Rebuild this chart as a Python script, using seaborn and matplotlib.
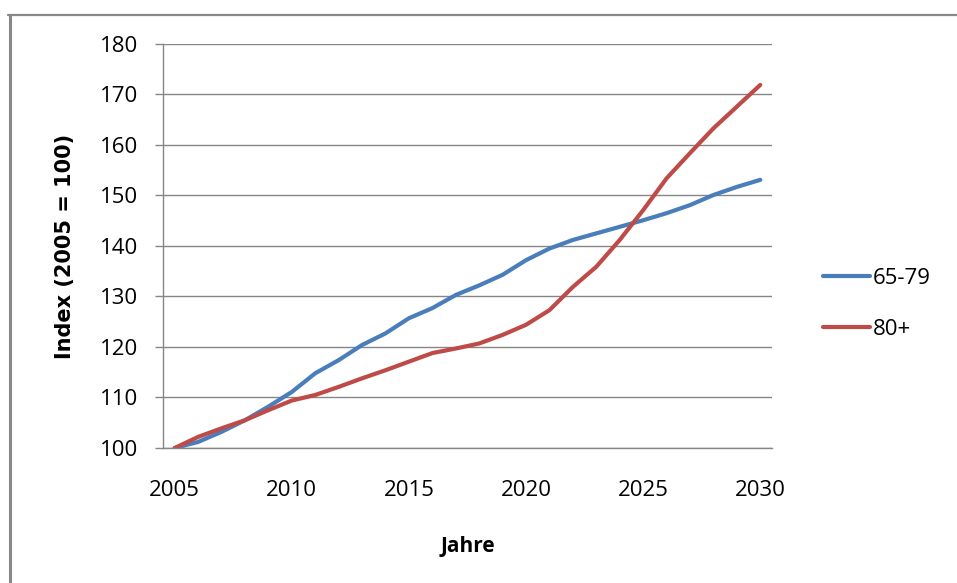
import numpy as np
import pandas as pd
import matplotlib
matplotlib.use("Agg")
import matplotlib.pyplot as plt
from matplotlib.lines import Line2D
import seaborn as sns

# Data
years = list(range(2005, 2031))
age_65_79 = [100.0, 101.2, 103.2, 105.5, 108.2, 111.1, 114.8, 117.4, 120.4, 122.7,
             125.7, 127.7, 130.3, 132.2, 134.3, 137.2, 139.5, 141.2, 142.5, 143.8,
             145.1, 146.5, 148.1, 150.1, 151.7, 153.1]
age_80_plus = [100.0, 102.2, 103.9, 105.5, 107.5, 109.4, 110.5, 112.1, 113.8, 115.4,
               117.1, 118.8, 119.7, 120.7, 122.4, 124.4, 127.3, 131.9, 135.9, 141.2,
               147.1, 153.4, 158.4, 163.3, 167.6, 171.9]
groups = ["65-79", "80+"]
colors = ["#4A7EBB", "#BE4B48"]

df = pd.DataFrame({
    "Jahr": years * 2,
    "Index": age_65_79 + age_80_plus,
    "Gruppe": [groups[0]] * len(years) + [groups[1]] * len(years),
})

sns.set_style("white")
plt.rcParams['font.family'] = ['Open Sans', 'DejaVu Sans']
plt.rcParams['text.color'] = 'black'
plt.rcParams['axes.labelcolor'] = 'black'
plt.rcParams['xtick.color'] = 'black'
plt.rcParams['ytick.color'] = 'black'

fig = plt.figure(figsize=(9.57, 5.83), dpi=100)
ax = fig.add_axes([163 / 957, 1 - 448 / 583, (772 - 163) / 957, (448 - 44) / 583])

sns.lineplot(data=df, x="Jahr", y="Index", hue="Gruppe", palette=colors,
             linewidth=3.0, ax=ax)

ax.set_xlim(2004.5, 2030.5)
ax.set_ylim(100, 180)
ax.set_yticks(np.arange(100, 181, 10))
ax.set_xticks([2005, 2010, 2015, 2020, 2025, 2030])
ax.yaxis.grid(True, color="#868686", linewidth=1.0)
ax.xaxis.grid(False)
ax.set_axisbelow(True)

for side in ["top", "right"]:
    ax.spines[side].set_visible(False)
for side in ["left", "bottom"]:
    ax.spines[side].set_color("#868686")
    ax.spines[side].set_linewidth(1.0)

ax.tick_params(axis="y", length=6, width=1.0, color="#868686", labelcolor="black",
               pad=12, labelsize=16, left=True)
ax.tick_params(axis="x", length=0, pad=23, labelsize=16, labelcolor="black")

ax.set_xlabel("Jahre", fontsize=15, fontweight="bold", labelpad=25)
ax.set_ylabel("Index (2005 = 100)", fontsize=15, fontweight="bold", labelpad=18,
              family=["DejaVu Sans"])

ax.legend(loc="center left", bbox_to_anchor=(823 / 957, 1 - 304 / 583),
          bbox_transform=fig.transFigure, frameon=False, fontsize=16,
          handlelength=2.1, handletextpad=0.15, labelspacing=1.35,
          borderpad=0, borderaxespad=0)

# outer chart border (left and top visible)
fig.add_artist(Line2D([9.5 / 957, 9.5 / 957], [0, 1 - 15 / 583], transform=fig.transFigure,
                      color="#888888", linewidth=2.2))
fig.add_artist(Line2D([8 / 957, 1], [1 - 15 / 583, 1 - 15 / 583], transform=fig.transFigure,
                      color="#888888", linewidth=1.6))

fig.savefig("out.png", dpi=100)
